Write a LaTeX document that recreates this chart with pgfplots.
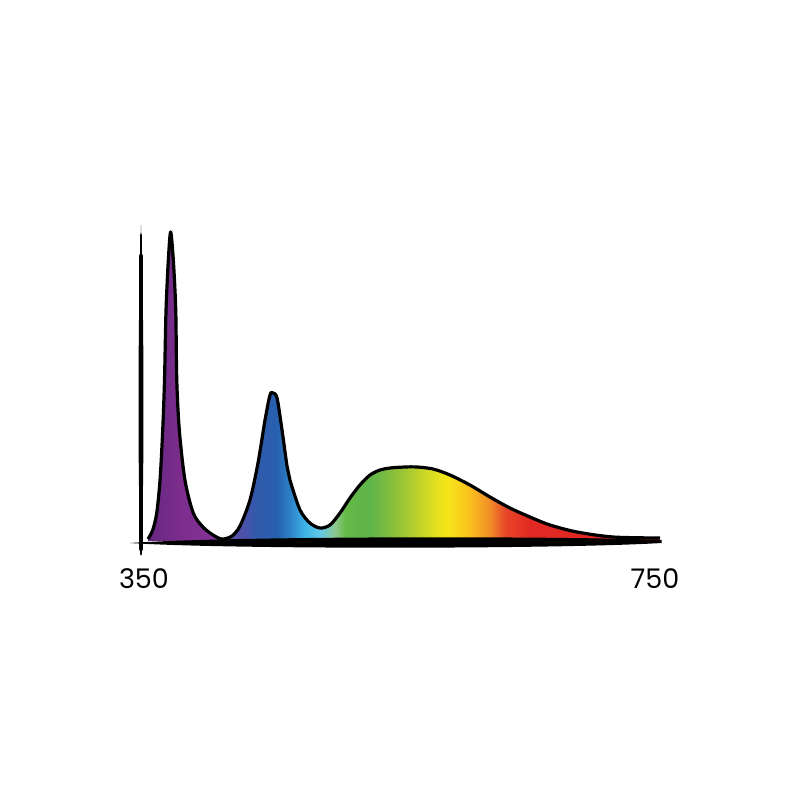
\documentclass[border=0pt]{standalone}
\usepackage{pgfplots}
\pgfplotsset{compat=1.18}
\usepackage{fontspec}
\setmainfont{Poppins}

% spectrum colours, left to right
\definecolor{c01}{RGB}{100,40,130}
\definecolor{c02}{RGB}{125,45,140}
\definecolor{c03}{RGB}{130,50,150}
\definecolor{c04}{RGB}{100,80,170}
\definecolor{c05}{RGB}{80,80,170}
\definecolor{c06}{RGB}{50,90,170}
\definecolor{c07}{RGB}{40,95,175}
\definecolor{c08}{RGB}{45,130,200}
\definecolor{c09}{RGB}{60,180,230}
\definecolor{c10}{RGB}{100,200,230}
\definecolor{c11}{RGB}{140,200,140}
\definecolor{c12}{RGB}{100,185,70}
\definecolor{c13}{RGB}{95,180,75}
\definecolor{c14}{RGB}{150,195,55}
\definecolor{c15}{RGB}{215,220,35}
\definecolor{c16}{RGB}{245,230,25}
\definecolor{c17}{RGB}{250,190,30}
\definecolor{c18}{RGB}{240,140,40}
\definecolor{c19}{RGB}{230,70,40}
\definecolor{c20}{RGB}{225,40,35}

% 25bp..75bp of the shading spans 355.5..756.3 nm
\pgfdeclarehorizontalshading{spectrum}{100bp}{%
  color(0bp)=(c01); color(25bp)=(c01); color(28.1bp)=(c02);
  color(31.6bp)=(c03); color(32.6bp)=(c04); color(34.0bp)=(c05);
  color(35.5bp)=(c06); color(37.5bp)=(c07); color(38.9bp)=(c08);
  color(40.3bp)=(c09); color(41.8bp)=(c10); color(43.3bp)=(c11);
  color(44.3bp)=(c12); color(46.7bp)=(c13); color(49.6bp)=(c14);
  color(52.5bp)=(c15); color(54.2bp)=(c16); color(56.5bp)=(c17);
  color(58.4bp)=(c18); color(59.9bp)=(c19); color(62.3bp)=(c20);
  color(100bp)=(c20)}

\pgfplotstableread{
nm    h
355.5 2
359.2 11
362.3 28
364.9 61
367.0 111
368.4 161
369.6 231
371.4 281
373.2 309
375.3 281
377.2 231
378.0 161
380.0 111
384.4 61
390.9 28
398.5 14
406.4 6
413.4 2
421.2 5
427.5 15
435.3 41
441.6 78
447.1 121
451.0 146
453.3 148
456.5 143
460.4 111
464.3 75
466.6 61
474.5 31
482.3 18
490.1 13
497.9 16
505.8 28
513.6 43
521.4 56
529.3 66
537.1 71
544.9 73
556.6 74
566.0 74
578.6 72
591.9 66
607.5 56
623.2 44
638.8 33
654.5 24
670.2 16
691.3 9
719.5 4
756.3 3
}\spec

\begin{document}
\begin{tikzpicture}
\path[use as bounding box] (0,0) rectangle (400pt,400pt);
\begin{axis}[
    at={(51.34pt,119.5pt)}, anchor=south west,
    scale only axis, width=293.8pt, height=180pt,
    xmin=320, xmax=780, ymin=-20, ymax=340,
    axis line style={draw=none},
    major tick length=0pt,
    xtick={350,750}, ytick=\empty,
    /pgf/number format/assume math mode=true,
    /pgf/number format/1000 sep={},
    xticklabel style={font=\fontsize{13.5}{16}\selectfont, inner sep=0pt, yshift=-3.5pt, xshift=1.5pt},
    clip=false,
]
% coloured area under the curve
\addplot[draw=none, shading=spectrum, smooth, tension=0.5] table[x=nm, y=h] {\spec} \closedcycle;
% brush-like axes
\fill[black] (axis cs:341.4,-2) .. controls (axis cs:420,5) and (axis cs:680,5) .. (axis cs:757.5,1)
  -- (axis cs:757.5,-2) .. controls (axis cs:680,-8) and (axis cs:420,-8.5) .. (axis cs:341.4,-2) -- cycle;
\fill[black] (axis cs:350,316) .. controls (axis cs:352.6,220) and (axis cs:352.6,40) .. (axis cs:350,-15)
  .. controls (axis cs:347.4,40) and (axis cs:347.4,220) .. (axis cs:350,316) -- cycle;
\draw[black, line width=2.2pt, line cap=round] (axis cs:350,-8) -- (axis cs:350,285);
\draw[black, line width=1.3pt, line cap=round] (axis cs:350,-13) -- (axis cs:350,306);
% outline
\addplot[black, line width=1.6pt, smooth, tension=0.5, line join=round] table[x=nm, y=h] {\spec};
\end{axis}
\end{tikzpicture}
\end{document}
